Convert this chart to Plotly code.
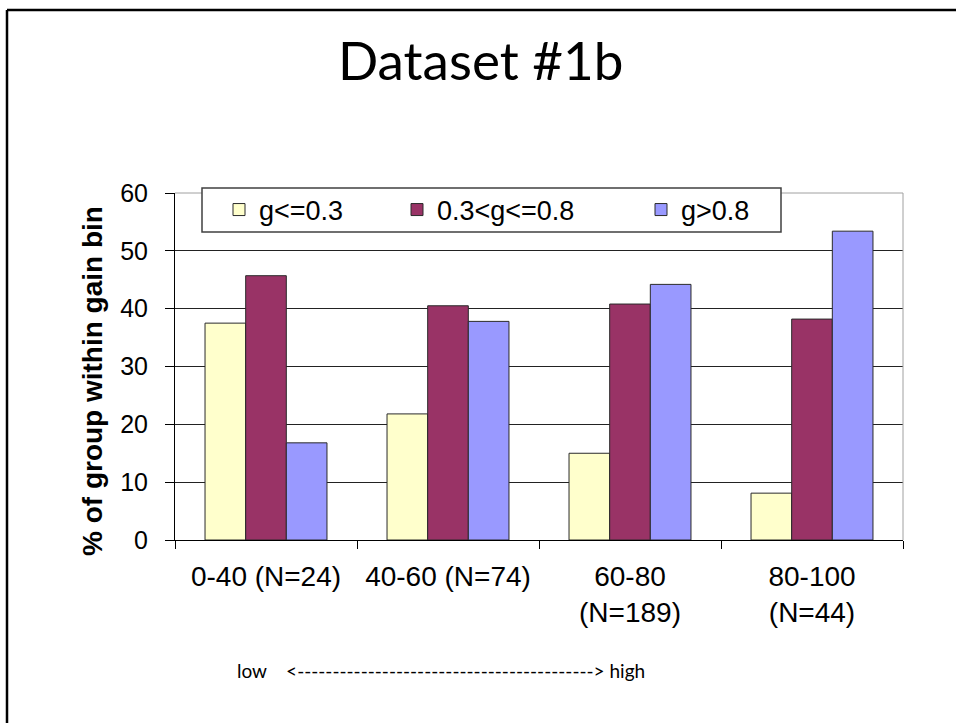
import plotly.graph_objects as go

# Gain bins (x categories) and the share of each g-group within a bin (%)
bins = ["0-40 (N=24)", "40-60 (N=74)", "60-80<br>(N=189)", "80-100<br>(N=44)"]
series_names = ["g<=0.3", "0.3<g<=0.8", "g>0.8"]
low_g = [37.5, 21.8, 15.0, 8.1]
mid_g = [45.7, 40.5, 40.8, 38.2]
high_g = [16.8, 37.8, 44.2, 53.4]
y_ticks = [0, 10, 20, 30, 40, 50, 60]

colors = ["#FFFFCC", "#993366", "#9999FF"]
W, H = 956, 723
L, R, T, B = 175, 53, 193, 183
pw, ph = W - L - R, H - T - B


def px(x):
    return (x - L) / pw


def py(y):
    return (H - B - y) / ph


fig = go.Figure()
legend_ids = ["legend", "legend2", "legend3"]
for name, vals, col, lg in zip(series_names, [low_g, mid_g, high_g], colors, legend_ids):
    fig.add_trace(go.Bar(
        x=bins, y=vals, name=name, legend=lg,
        marker=dict(color=col, line=dict(color="#2a2a2a", width=1)),
        hoverinfo="x+y+name",
    ))

legend_style = dict(
    orientation="h", yanchor="middle", xanchor="left", y=py(210),
    bgcolor="rgba(0,0,0,0)", borderwidth=0,
    font=dict(family="Arial, Liberation Sans", size=27, color="black"),
)

fig.update_layout(
    width=W, height=H,
    margin=dict(l=L, r=R, t=T, b=B, pad=0),
    paper_bgcolor="white", plot_bgcolor="white",
    barmode="group", bargap=0.33, bargroupgap=0,
    showlegend=True,
    legend=dict(x=px(219), **legend_style),
    legend2=dict(x=px(397), **legend_style),
    legend3=dict(x=px(641), **legend_style),
    font=dict(family="Arial, Liberation Sans", color="black"),
    xaxis=dict(
        type="category", range=[-0.5, 3.5],
        tickson="boundaries", ticks="outside", ticklen=8, tickcolor="black",
        showline=True, linecolor="black", linewidth=1,
        showgrid=False,
        tickfont=dict(family="Arial, Liberation Sans", size=28, color="black"),
        ticklabelstandoff=11,
    ),
    yaxis=dict(
        range=[0, 60], tickvals=y_ticks,
        ticks="outside", ticklen=9, tickcolor="black",
        showline=True, linecolor="black", linewidth=1,
        showgrid=True, gridcolor="#222222", gridwidth=1, zeroline=False,
        tickfont=dict(family="Arial, Liberation Sans", size=25, color="black"),
        ticklabelstandoff=12,
    ),
    shapes=[
        # plot-area frame (top and right edges)
        dict(type="line", xref="paper", yref="paper", x0=0, x1=1, y0=1, y1=1,
             line=dict(color="#a0a0a0", width=1), layer="above"),
        dict(type="line", xref="paper", yref="paper", x0=1, x1=1, y0=0, y1=1,
             line=dict(color="#a0a0a0", width=1), layer="above"),
        # legend box
        dict(type="rect", xref="paper", yref="paper",
             x0=px(202), x1=px(781), y0=py(232), y1=py(188),
             fillcolor="white", line=dict(color="#404040", width=1.5), layer="above"),
        # slide frame
        dict(type="line", xref="paper", yref="paper",
             x0=px(7), x1=px(7), y0=py(10), y1=py(740),
             line=dict(color="black", width=2.5)),
        dict(type="line", xref="paper", yref="paper",
             x0=px(7), x1=px(970), y0=py(10), y1=py(10),
             line=dict(color="black", width=2.5)),
    ],
    annotations=[
        dict(text="Dataset #1b", xref="paper", yref="paper",
             x=px(480), y=py(59), xanchor="center", yanchor="middle",
             showarrow=False, font=dict(family="Lato", size=53, color="black")),
        dict(text="<b>% of group within gain bin</b>", xref="paper", yref="paper",
             x=px(92), y=py(381), xanchor="center", yanchor="middle", textangle=-90,
             showarrow=False, font=dict(family="Arial, Liberation Sans", size=28, color="black")),
        dict(text="low&nbsp;&nbsp;&nbsp;&nbsp;<" + "-" * 42 + "> high",
             xref="paper", yref="paper", x=px(235), y=py(670),
             xanchor="left", yanchor="middle", showarrow=False,
             font=dict(family="Lato", size=19, color="black")),
    ],
)

fig.write_html("out.html")
